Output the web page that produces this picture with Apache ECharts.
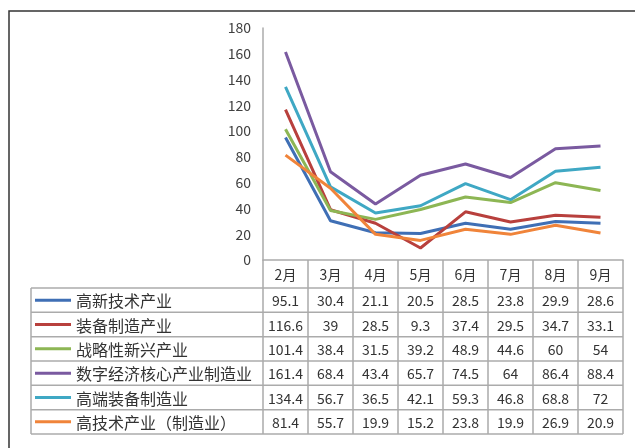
<!DOCTYPE html>
<html>
<head>
<meta charset="utf-8">
<script src="https://cdn.jsdelivr.net/npm/echarts@6/dist/echarts.min.js"></script>
<style>
html,body{margin:0;padding:0;background:#fff;}
#c{width:635px;height:448px;}
</style>
</head>
<body>
<div id="c"></div>
<script>
const months = ['2月','3月','4月','5月','6月','7月','8月','9月'];
const seriesNames = ['高新技术产业','装备制造产业','战略性新兴产业','数字经济核心产业制造业','高端装备制造业','高技术产业（制造业）'];
const gaoxin   = [95.1, 30.4, 21.1, 20.5, 28.5, 23.8, 29.9, 28.6];
const zhuangbei= [116.6, 39, 28.5, 9.3, 37.4, 29.5, 34.7, 33.1];
const zhanlue  = [101.4, 38.4, 31.5, 39.2, 48.9, 44.6, 60, 54];
const shuzi    = [161.4, 68.4, 43.4, 65.7, 74.5, 64, 86.4, 88.4];
const gaoduan  = [134.4, 56.7, 36.5, 42.1, 59.3, 46.8, 68.8, 72];
const gaojishu = [81.4, 55.7, 19.9, 15.2, 23.8, 19.9, 26.9, 20.9];
const allValues = [gaoxin, zhuangbei, zhanlue, shuzi, gaoduan, gaojishu];
const yTicks = {min: 0, max: 180, interval: 20};

const colors = ['#3F6FB5','#B8403D','#8DB654','#7A5AA0','#3FA8C4','#F0843A'];
const FONT = '"Noto Sans CJK SC", "Noto Sans", sans-serif';
const GRID = {left: 263, right: 12, top: 28, bottom: 188};
const W = 635, H = 448;
const axisY = H - GRID.bottom;      // 260
const headerBottom = 288;
const tableBottom = 434;
const tableLeft = 31;
const tableRight = W - GRID.right;
const rowH = (tableBottom - headerBottom) / allValues.length;
const lineColor = '#ababab';

const chart = echarts.init(document.getElementById('c'), null, {renderer: 'canvas'});

const baseOption = {
  animation: false,
  backgroundColor: '#fff',
  grid: GRID,
  xAxis: {
    type: 'category',
    data: months,
    boundaryGap: true,
    axisLine: {show: true, lineStyle: {color: lineColor, width: 1.5}},
    axisTick: {show: true, interval: 0, length: tableBottom - axisY, lineStyle: {color: lineColor, width: 1.5}},
    axisLabel: {show: false},
    splitLine: {show: false}
  },
  yAxis: {
    type: 'value',
    min: yTicks.min, max: yTicks.max, interval: yTicks.interval,
    axisLine: {show: true, lineStyle: {color: lineColor, width: 1.5}},
    axisTick: {show: false},
    splitLine: {show: false},
    axisLabel: {color: '#404040', fontSize: 14, fontFamily: FONT, margin: 12}
  },
  series: allValues.map((vals, i) => ({
    name: seriesNames[i],
    type: 'line',
    data: vals,
    symbol: 'none',
    lineStyle: {color: colors[i], width: 3},
    itemStyle: {color: colors[i]},
    z: 3
  }))
};
chart.setOption(baseOption);

const graphics = [];
// outer frame
graphics.push({type: 'rect', shape: {x: 9, y: 11, width: 700, height: 500}, style: {fill: 'none', stroke: '#333', lineWidth: 1.5}, silent: true});
// horizontal table lines
for (let r = 0; r <= allValues.length; r++) {
  const y = headerBottom + r * rowH;
  graphics.push({type: 'line', shape: {x1: tableLeft, y1: y, x2: tableRight, y2: y}, style: {stroke: lineColor, lineWidth: 1.5}, silent: true});
}
// left vertical border of row-label column
graphics.push({type: 'line', shape: {x1: tableLeft, y1: headerBottom, x2: tableLeft, y2: tableBottom}, style: {stroke: lineColor, lineWidth: 1.5}, silent: true});

// header labels
months.forEach((m, i) => {
  const cx = chart.convertToPixel({xAxisIndex: 0}, i);
  graphics.push({type: 'text', x: cx, y: (axisY + headerBottom) / 2 + 1, style: {text: m, fill: '#333', font: '14px ' + FONT, align: 'center', verticalAlign: 'middle'}, silent: true});
});
// rows
allValues.forEach((vals, r) => {
  const cy = headerBottom + (r + 0.5) * rowH + 1;
  graphics.push({type: 'line', shape: {x1: 35, y1: cy - 1, x2: 71, y2: cy - 1}, style: {stroke: colors[r], lineWidth: 3}, silent: true});
  graphics.push({type: 'text', x: 76, y: cy, style: {text: seriesNames[r], fill: '#333', font: '16px ' + FONT, align: 'left', verticalAlign: 'middle'}, silent: true});
  vals.forEach((v, i) => {
    const cx = chart.convertToPixel({xAxisIndex: 0}, i);
    graphics.push({type: 'text', x: cx, y: cy, style: {text: String(v), fill: '#333', font: '14px ' + FONT, align: 'center', verticalAlign: 'middle'}, silent: true});
  });
});

chart.setOption({graphic: graphics});
</script>
</body>
</html>
